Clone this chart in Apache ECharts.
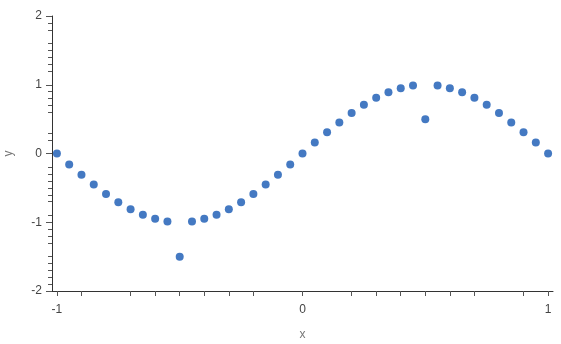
<!DOCTYPE html>
<html>
<head>
<meta charset="utf-8">
<script src="https://cdn.jsdelivr.net/npm/echarts@6/dist/echarts.min.js"></script>
<style>
html,body{margin:0;padding:0;background:#fff;}
#chart{width:561px;height:344px;}
</style>
</head>
<body>
<div id="chart"></div>
<script>
var xValues = [-1, -0.95, -0.9, -0.85, -0.8, -0.75, -0.7, -0.65, -0.6, -0.55, -0.5, -0.45, -0.4, -0.35, -0.3, -0.25, -0.2, -0.15, -0.1, -0.05, 0, 0.05, 0.1, 0.15, 0.2, 0.25, 0.3, 0.35, 0.4, 0.45, 0.5, 0.55, 0.6, 0.65, 0.7, 0.75, 0.8, 0.85, 0.9, 0.95, 1];
var yValues = [0, -0.16, -0.31, -0.45, -0.59, -0.71, -0.81, -0.89, -0.95, -0.99, -1.5, -0.99, -0.95, -0.89, -0.81, -0.71, -0.59, -0.45, -0.31, -0.16, 0, 0.16, 0.31, 0.45, 0.59, 0.71, 0.81, 0.89, 0.95, 0.99, 0.5, 0.99, 0.95, 0.89, 0.81, 0.71, 0.59, 0.45, 0.31, 0.16, 0];
var xTickValues = [-1, -0.9, -0.7, -0.6, -0.5, -0.4, -0.3, -0.2, 0, 0.2, 0.3, 0.4, 0.5, 0.6, 0.7, 0.9, 1];
var xLabelValues = [-1, 0, 1];
var yMajorValues = [-2, -1, 0, 1, 2];
var yMinorValues = [1.9, 1.8, 1.6, 1.5, 1.4, 1.3, 1.2, 0.9, 0.8, 0.7, 0.6, 0.3, 0.2, -0.2, -0.3, -0.4, -0.5, -0.6, -0.7, -0.9, -1.1, -1.2, -1.3, -1.5, -1.6, -1.7, -1.8, -1.9];

var points = xValues.map(function (x, i) { return [x, yValues[i]]; });

var chart = echarts.init(document.getElementById('chart'), null, {renderer: 'canvas'});
var labelColor = '#444';
var axisColor = '#333';
chart.setOption({
  animation: false,
  textStyle: {fontFamily: 'Liberation Sans, Arial, sans-serif'},
  grid: {left: 52, right: 8, top: 16, bottom: 53, containLabel: false, outerBoundsMode: 'none'},
  xAxis: {
    type: 'value', min: -1.02, max: 1.02,
    name: 'x', nameLocation: 'middle', nameGap: 38,
    nameTextStyle: {color: '#777', fontSize: 12},
    splitLine: {show: false},
    axisLine: {show: true, onZero: false, lineStyle: {color: axisColor, width: 1}},
    axisTick: {show: true, length: 5, customValues: xTickValues, lineStyle: {color: '#555'}},
    axisLabel: {customValues: xLabelValues, color: labelColor, fontSize: 12, margin: 13}
  },
  yAxis: [{
    type: 'value', min: -2, max: 2,
    name: 'y', nameLocation: 'middle', nameGap: 37, nameRotate: 90,
    nameTextStyle: {color: '#777', fontSize: 12},
    splitLine: {show: false},
    axisLine: {show: true, onZero: false, lineStyle: {color: axisColor, width: 1}},
    axisTick: {show: true, length: 6, customValues: yMajorValues, lineStyle: {color: '#555'}},
    axisLabel: {customValues: yMajorValues, color: labelColor, fontSize: 12, margin: 10}
  }, {
    type: 'value', min: -2, max: 2, position: 'left', offset: 0,
    splitLine: {show: false},
    axisLine: {show: false, onZero: false},
    axisTick: {show: true, length: 4, customValues: yMinorValues, lineStyle: {color: '#555'}},
    axisLabel: {show: false}
  }],
  series: [{
    type: 'scatter',
    xAxisIndex: 0, yAxisIndex: 0,
    symbol: 'circle', symbolSize: 8,
    itemStyle: {color: '#4479c2', opacity: 1},
    data: points
  }]
});
</script>
</body>
</html>
